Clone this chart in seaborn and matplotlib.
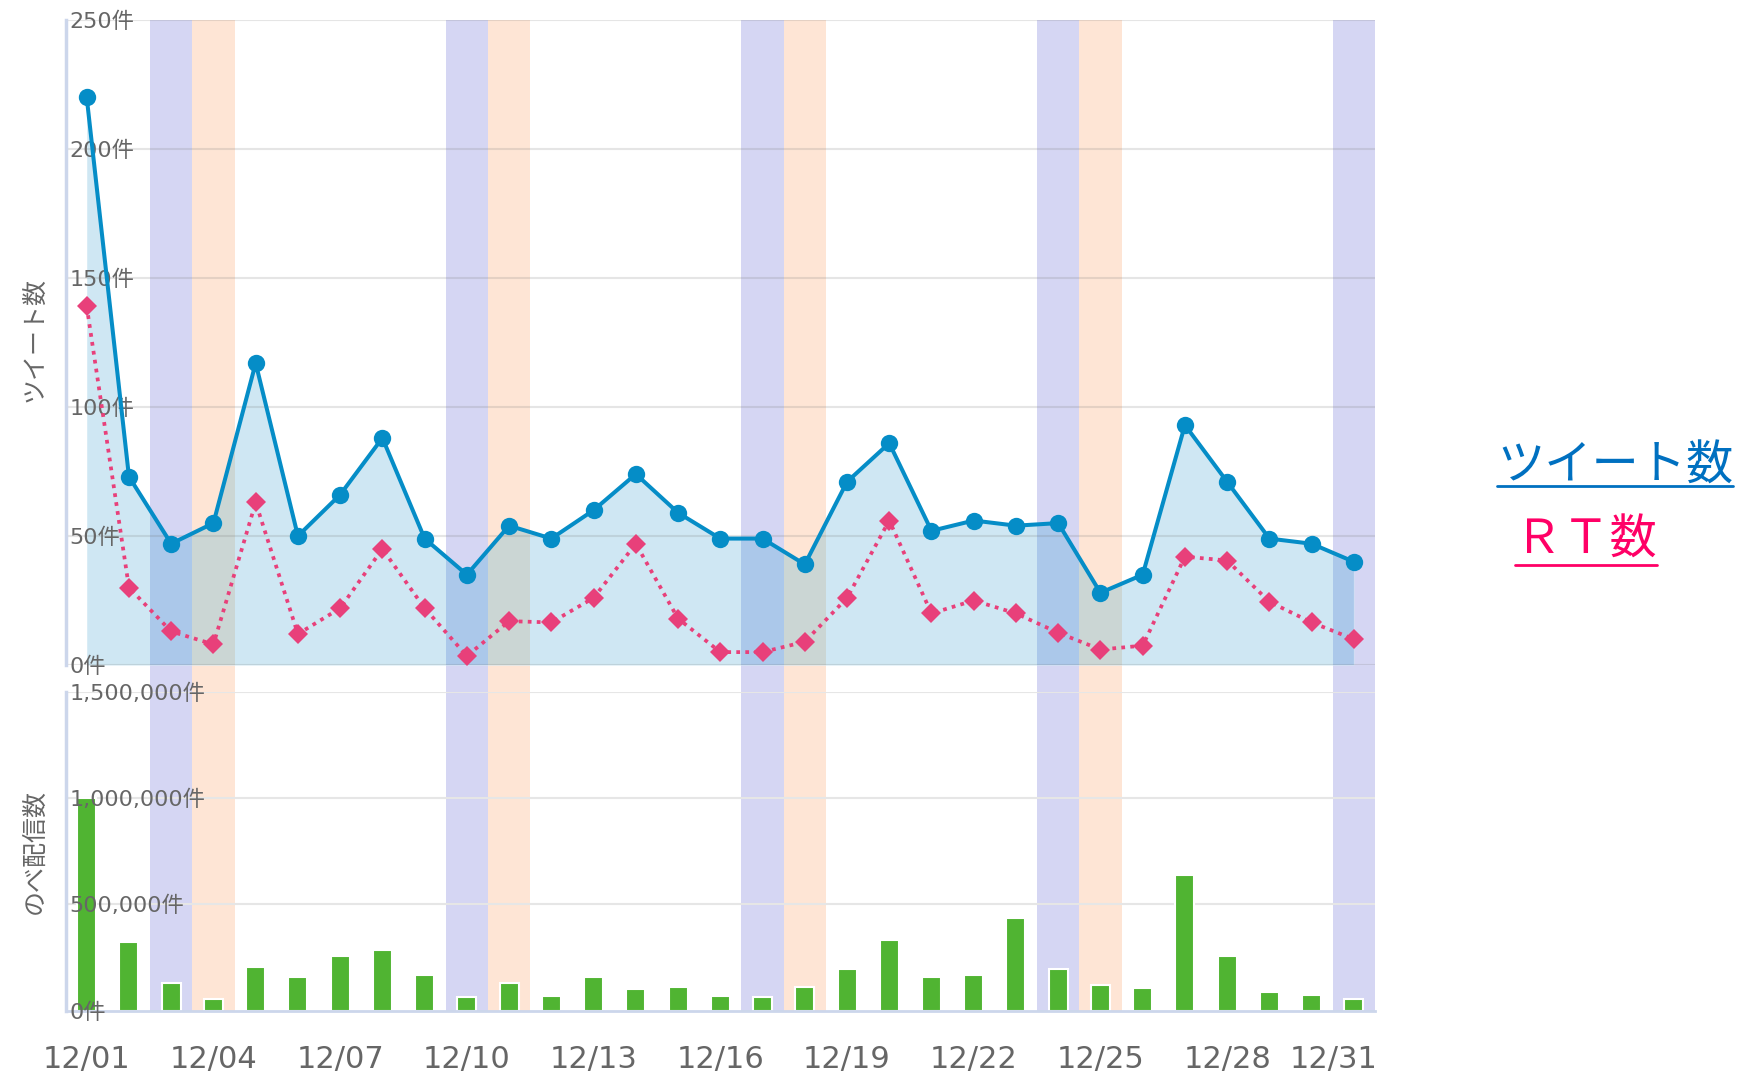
import matplotlib.pyplot as plt
import matplotlib.transforms as mtransforms
from matplotlib.lines import Line2D
import numpy as np
import pandas as pd
import seaborn as sns

# data (day index 0 = 12/01)
days = list(range(31))
tweets = [220, 73, 47, 55, 117, 50, 66, 88, 49, 35, 54, 49, 60, 74, 59, 49,
          49, 39, 71, 86, 52, 56, 54, 55, 28, 35, 93, 71, 49, 47, 40]
rts = [139, 30, 13, 8, 63, 12, 22, 45, 22, 3.5, 17, 16.5, 26, 47, 18, 5,
       5, 9, 26, 56, 20, 25, 20, 12.5, 6, 7.5, 42, 40.5, 24.5, 16.5, 10]
deliveries = [1000000, 324000, 131000, 52000, 205000, 158000, 257000, 284000,
              168000, 62000, 130000, 70000, 158000, 101000, 111000, 70000,
              62000, 111000, 194000, 332000, 158000, 168000, 433000, 196000,
              120000, 108000, 638000, 256000, 89000, 71000, 52000]
saturdays = [2, 9, 16, 23, 30]
sundays = [3, 10, 17, 24]
xtick_pos = [0, 3, 6, 9, 12, 15, 18, 21, 24, 27, 30]
xtick_labels = ['12/01', '12/04', '12/07', '12/10', '12/13', '12/16',
                '12/19', '12/22', '12/25', '12/28', '12/31']
tweet_ticks = [0, 50, 100, 150, 200, 250]
deliv_ticks = [0, 500000, 1000000, 1500000]

df = pd.DataFrame({'day': days, 'tweets': tweets, 'rt': rts, 'deliv': deliveries})

sns.set_style('white')
plt.rcParams['font.family'] = ['DejaVu Sans', 'Noto Sans CJK JP']

GREY = '#666666'
SPINE = '#ccd6eb'
SAT_C = '#d5d6f3'
SUN_C = '#fee5d5'
FILL_C = '#cfe7f3'
SAT_MIX = '#abc8ea'
SUN_MIX = '#cbd6d4'
BLUE = '#058dc7'
PINK = '#e8407a'
GREEN = '#50b432'

fig = plt.figure(figsize=(17.43, 10.72), dpi=100)
H = 1072.0
Wd = 1743.0
left = 65.6 / Wd
width = (1375 - 65.6) / Wd

bg = fig.add_axes([left, 1 - 1010.5 / H, width, (1010.5 - 20) / H])
ax1 = fig.add_axes([left, 1 - 665 / H, width, (665 - 20) / H])
ax2 = fig.add_axes([left, 1 - 1010.5 / H, width, (1010.5 - 691.5) / H])
bg.set_zorder(0)
ax1.set_zorder(1)
ax2.set_zorder(1)

# weekend bands behind both panels
for d in saturdays:
    bg.axvspan(d - 0.5, d + 0.5, color=SAT_C, lw=0)
for d in sundays:
    bg.axvspan(d - 0.5, d + 0.5, color=SUN_C, lw=0)
bg.set_xlim(-0.5, 30.5)
bg.set_ylim(0, 1)
bg.axis('off')

# ---- top panel: tweets / RT ----
ax1.patch.set_alpha(0)
fill = ax1.fill_between(df['day'], df['tweets'], 0, color=FILL_C, lw=0, zorder=1)
clip = fill.get_paths()[0]
for d in saturdays:
    r = ax1.axvspan(d - 0.5, d + 0.5, color=SAT_MIX, lw=0, zorder=1.1)
    r.set_clip_path(clip, ax1.transData)
for d in sundays:
    r = ax1.axvspan(d - 0.5, d + 0.5, color=SUN_MIX, lw=0, zorder=1.1)
    r.set_clip_path(clip, ax1.transData)

# gridlines: translucent grey so they show darker across the fill
for v in tweet_ticks:
    ax1.axhline(v, color='#737373', alpha=0.18, lw=1.5, zorder=1.5)

sns.lineplot(data=df, x='day', y='rt', ax=ax1, color=PINK, lw=2.7,
             linestyle=(0, (1, 1.4)), marker='D', markersize=10,
             markeredgewidth=0, zorder=2.6)
sns.lineplot(data=df, x='day', y='tweets', ax=ax1, color=BLUE, lw=2.9,
             marker='o', markersize=12.5, markeredgewidth=0, zorder=3)

ax1.set_xlim(-0.5, 30.5)
ax1.set_ylim(0, 250)
ax1.set_xticks([])
ax1.set_xlabel('')
ax1.set_yticks(tweet_ticks, labels=[f'{v}件' for v in tweet_ticks])
ax1.grid(False)
ax1.set_axisbelow(False)
ax1.set_ylabel('ツイート数', fontsize=18, color=GREY,
               family=['Noto Sans CJK JP'])
ax1.yaxis.set_label_coords(-0.014, 0.505)
for s in ['top', 'right', 'bottom']:
    ax1.spines[s].set_visible(False)
ax1.spines['left'].set_color(SPINE)
ax1.spines['left'].set_linewidth(2.5)

# ---- bottom panel: deliveries ----
ax2.patch.set_alpha(0)
for v in deliv_ticks[1:]:
    ax2.axhline(v, color='#e6e6e6', lw=1.5, zorder=0.5)
sns.barplot(data=df, x='day', y='deliv', ax=ax2, color=GREEN, saturation=1,
            width=0.45, edgecolor='white', linewidth=1.5)
ax2.set_xlim(-0.5, 30.5)
ax2.set_ylim(0, 1500000)
ax2.set_yticks(deliv_ticks, labels=[f'{v:,}件' for v in deliv_ticks])
ax2.set_xticks(xtick_pos, labels=xtick_labels)
ax2.set_xlabel('')
ax2.grid(False)
ax2.set_axisbelow(False)
ax2.set_ylabel('のべ配信数', fontsize=18, color=GREY,
               family=['Noto Sans CJK JP'])
ax2.yaxis.set_label_coords(-0.014, 0.5)
for s in ['top', 'right']:
    ax2.spines[s].set_visible(False)
ax2.spines['left'].set_color(SPINE)
ax2.spines['left'].set_linewidth(2.5)
ax2.spines['bottom'].set_color(SPINE)
ax2.spines['bottom'].set_linewidth(2)

for ax in (ax1, ax2):
    ax.tick_params(axis='y', length=0, pad=-3, labelsize=16, labelcolor=GREY)
    for lab in ax.get_yticklabels():
        lab.set_horizontalalignment('left')
ax2.tick_params(axis='x', length=0, pad=25, labelsize=22, labelcolor=GREY)
last = ax2.get_xticklabels()[-1]
last.set_transform(last.get_transform() +
                   mtransforms.ScaledTranslation(-0.2, 0, fig.dpi_scale_trans))

# legend-like labels on the right, underlined
t1 = fig.text(1497 / Wd, 1 - 466 / H, 'ツイート数', color='#0070c0', fontsize=34,
              family=['Noto Sans CJK JP'], va='center', ha='left')
t2 = fig.text(1515 / Wd, 1 - 540 / H, 'ＲＴ数', color='#ff0066', fontsize=34,
              family=['Noto Sans CJK JP'], va='center', ha='left')
fig.canvas.draw()
renderer = fig.canvas.get_renderer()
for t, y_px, c in [(t1, 486, '#0070c0'), (t2, 565, '#ff0066')]:
    bb = t.get_window_extent(renderer)
    fig.add_artist(Line2D([bb.x0 / Wd, bb.x1 / Wd], [1 - y_px / H, 1 - y_px / H],
                          transform=fig.transFigure, color=c, lw=2))

fig.savefig('out.png', dpi=100)
